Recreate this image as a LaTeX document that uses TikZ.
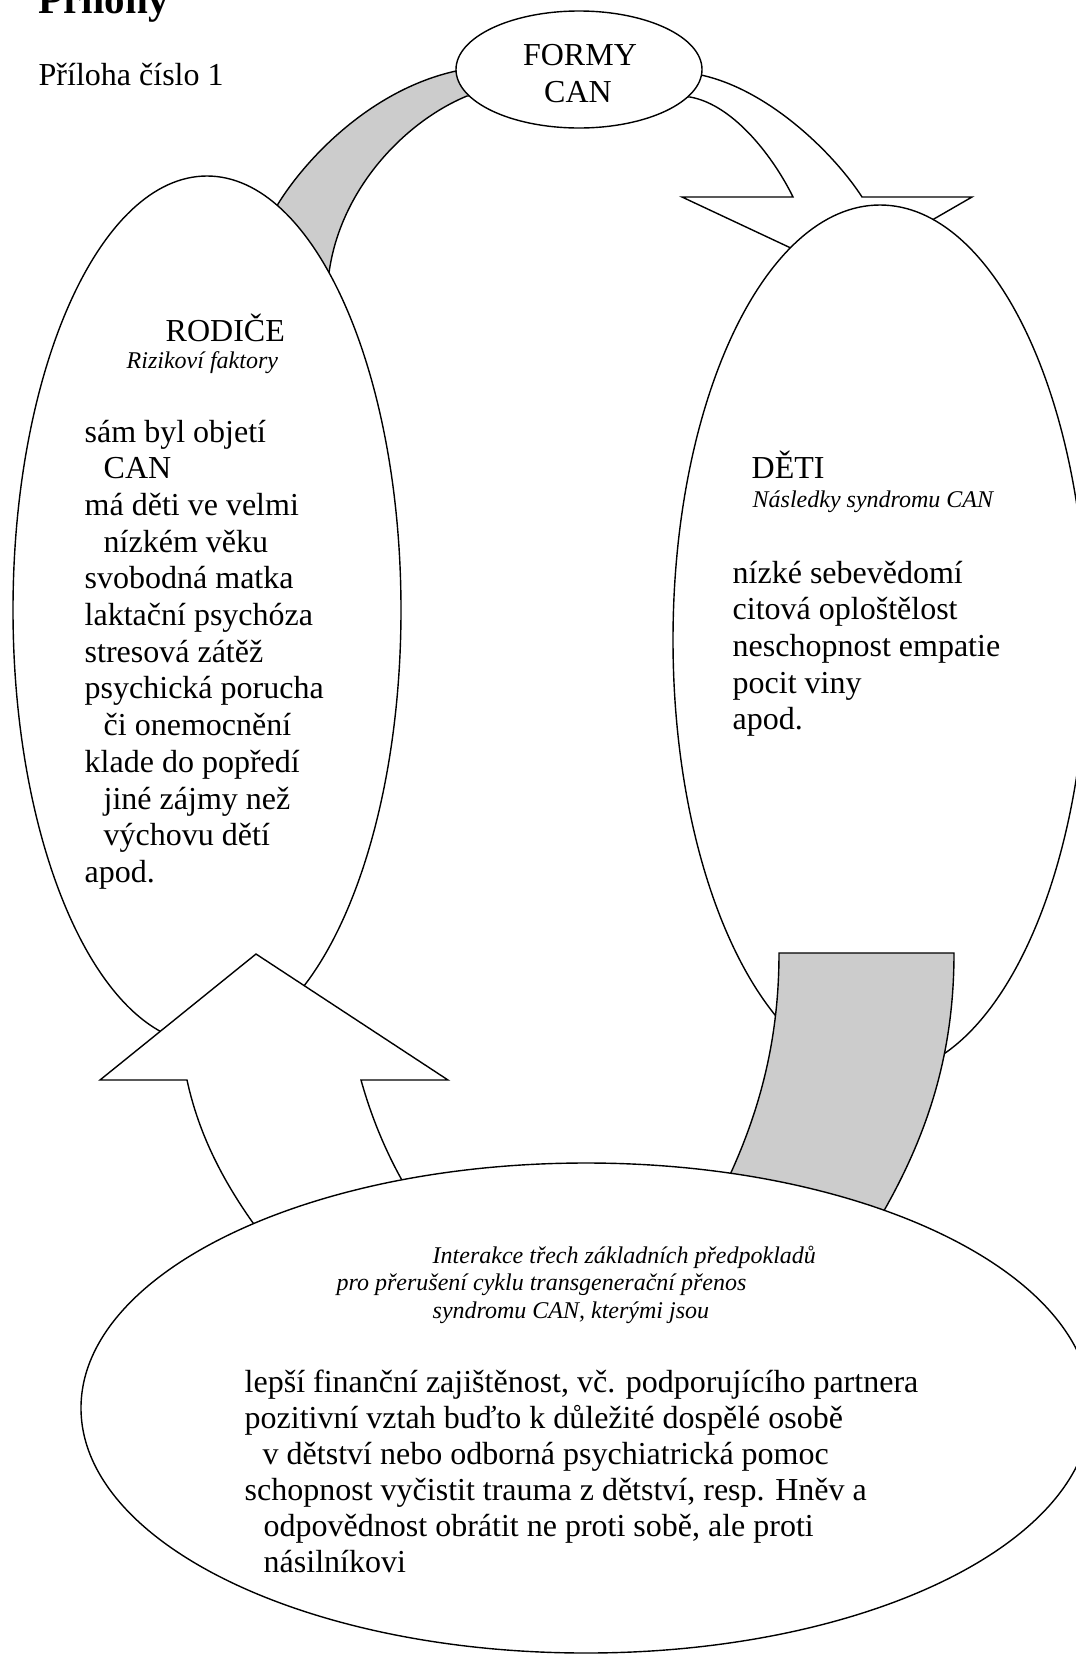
\documentclass[tikz,border=0pt]{standalone}
\usepackage{fontspec}
\setmainfont{Liberation Serif}
\usetikzlibrary{shapes.geometric}
\definecolor{bandgray}{gray}{0.8}
\begin{document}
\begin{tikzpicture}[x=1pt,y=-1pt,line width=1.4pt,line join=miter,
  oval/.style={ellipse,draw,fill=white,inner sep=0pt},
  band/.style={draw,fill=bandgray},
  blockarrow/.style={draw,fill=white},
  bodytext/.style={anchor=base west,inner sep=0pt,font=\fontsize{32}{36}\selectfont},
  subtext/.style={anchor=base west,inner sep=0pt,font=\fontsize{24}{28}\selectfont\itshape}]
\useasboundingbox (0,0) rectangle (1076,1655);
\clip (0,0) rectangle (1076,1655);
\fill[white] (0,0) rectangle (1076,1655);

% gray band RODICE -> FORMY (head hidden)
\path[band] (262,250) -- (278,204) .. controls (305,160) and (370,90) .. (456,71)
  -- (505,68) -- (505,95) -- (467,96) .. controls (404,122) and (340,190) .. (329,273)
  -- (300,300) -- cycle;

% white arrow FORMY -> DETI
\path[blockarrow] (660,75) -- (701,75) .. controls (770,90) and (835,155) .. (862,197)
  -- (972,197) -- (842,272) -- (682,197) -- (793,197)
  .. controls (775,160) and (735,105) .. (690,97) -- (660,97) -- cycle;

% RODICE ellipse
\node[oval,minimum width=388pt,minimum height=868pt] (rodice) at (207,610) {};

% up arrow bottom -> RODICE
\path[blockarrow] (290,1270) .. controls (230,1200) and (200,1140) .. (187,1080)
  -- (100,1080) -- (256,954) -- (448,1080) -- (361,1080)
  .. controls (375,1130) and (400,1190) .. (450,1250) -- cycle;

% FORMY CAN ellipse
\node[oval,minimum width=246pt,minimum height=117pt] (formy) at (579,69.5) {};

% DETI ellipse
\node[oval,minimum width=414pt,minimum height=870pt] (deti) at (880,640) {};

% gray band DETI -> bottom (head hidden)
\path[band] (779,953) -- (954,953) .. controls (954,1060) and (925,1150) .. (860,1250)
  -- (690,1250) .. controls (750,1150) and (779,1060) .. (779,953) -- cycle;

% bottom ellipse
\node[oval,minimum width=1010pt,minimum height=490pt] (interakce) at (586,1408) {};

% texts
\node[anchor=base west,inner sep=0pt,font=\fontsize{41}{45}\selectfont\bfseries] (title) at (38,13) {Přílohy};
\node[bodytext] (priloha) at (38,85) {Příloha číslo 1};
\node[bodytext,anchor=base] (formyA) at (580,65) {FORMY};
\node[bodytext,anchor=base] (formyB) at (578,102) {CAN};

\node[bodytext] (rodT) at (165,341) {RODIČE};
\node[subtext] (rodS) at (126,368) {Rizikoví faktory};
\node[bodytext] (r0) at (84,442) {sám byl objetí};
\node[bodytext] (r1) at (103,478.7) {CAN};
\node[bodytext] (r2) at (84,515.4) {má děti ve velmi};
\node[bodytext] (r3) at (103,552.1) {nízkém věku};
\node[bodytext] (r4) at (84,588.8) {svobodná matka};
\node[bodytext] (r5) at (84,625.5) {laktační psychóza};
\node[bodytext] (r6) at (84,662.2) {stresová zátěž};
\node[bodytext] (r7) at (84,698.9) {psychická porucha};
\node[bodytext] (r8) at (103,735.6) {či onemocnění};
\node[bodytext] (r9) at (84,772.3) {klade do popředí};
\node[bodytext] (r10) at (103,809) {jiné zájmy než};
\node[bodytext] (r11) at (103,845.7) {výchovu dětí};
\node[bodytext] (r12) at (84,882.4) {apod.};

\node[bodytext] (detT) at (751,478) {DĚTI};
\node[subtext] (detS) at (752,507) {Následky syndromu CAN};
\node[bodytext] (d0) at (732,583) {nízké sebevědomí};
\node[bodytext] (d1) at (732,619.7) {citová oploštělost};
\node[bodytext] (d2) at (732,656.4) {neschopnost empatie};
\node[bodytext] (d3) at (732,693.1) {pocit viny};
\node[bodytext] (d4) at (732,729.8) {apod.};

\node[subtext] (i0) at (432,1263) {Interakce třech základních předpokladů};
\node[subtext] (i1) at (336,1290) {pro přerušení cyklu transgenerační přenos};
\node[subtext] (i2) at (432,1318) {syndromu CAN, kterými jsou};
\node[bodytext] (b0) at (244,1392) {lepší finanční zajištěnost, vč. podporujícího partnera};
\node[bodytext] (b1) at (244,1428) {pozitivní vztah buďto k důležité dospělé osobě};
\node[bodytext] (b2) at (262,1464) {v dětství nebo odborná psychiatrická pomoc};
\node[bodytext] (b3) at (244,1500) {schopnost vyčistit trauma z dětství, resp. Hněv a};
\node[bodytext] (b4) at (263,1536) {odpovědnost obrátit ne proti sobě, ale proti};
\node[bodytext] (b5) at (263,1572) {násilníkovi};
\end{tikzpicture}
\end{document}
